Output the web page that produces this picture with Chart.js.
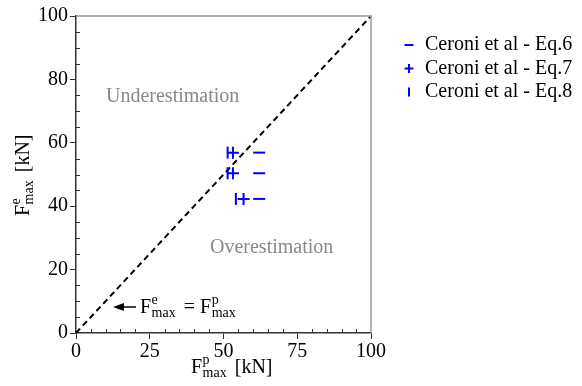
<!DOCTYPE html>
<html>
<head>
<meta charset="utf-8">
<script src="https://cdn.jsdelivr.net/npm/chart.js@4.4.1/dist/chart.umd.min.js"></script>
<style>
  html, body { margin: 0; padding: 0; background: #fff; }
  #wrap { width: 582px; height: 386px; }
</style>
</head>
<body>
<div id="wrap"><canvas id="forceChart" width="582" height="386"></canvas></div>
<script>
// measured vs predicted peak force, kN
const xEq6 = [62.1, 62.1, 62.1];
const yEq6 = [56.9, 50.4, 42.3];
const xEq7 = [53.2, 53.2, 56.8];
const yEq7 = [56.9, 50.4, 42.3];
const xEq8 = [51.4, 51.4, 54.2];
const yEq8 = [56.9, 50.4, 42.3];
const seriesLabels = ['Ceroni et al - Eq.6', 'Ceroni et al - Eq.7', 'Ceroni et al - Eq.8'];
const xTicks = [0, 25, 50, 75, 100];
const yTicks = [0, 20, 40, 60, 80, 100];

const serif = 'Liberation Serif';
const blue = '#0000ff';
Chart.defaults.font.family = serif;

function pts(xs, ys) {
    return xs.map((x, i) => ({ x: x, y: ys[i] }));
}

function font(size) {
    return size + 'px "' + serif + '", serif';
}

// F with a superscript and "max" subscript, then an optional tail
function drawF(ctx, x, y, sup, tail) {
    ctx.font = font(20);
    ctx.fillText('F', x, y);
    let cx = x + ctx.measureText('F').width + 0.5;
    ctx.font = font(14);
    ctx.fillText(sup, cx, y - 9);
    ctx.fillText('max', cx, y + 4);
    cx += Math.max(ctx.measureText(sup).width, ctx.measureText('max').width) + 3;
    if (tail) {
        ctx.font = font(20);
        ctx.fillText(tail, cx, y);
        cx += ctx.measureText(tail).width;
    }
    return cx;
}

const extras = {
    id: 'extras',
    afterDraw(chart) {
        const ctx = chart.ctx;
        const area = chart.chartArea;
        const xs = chart.scales.x, ys = chart.scales.y;
        ctx.save();

        // top and right frame
        ctx.strokeStyle = '#999';
        ctx.lineWidth = 1.5;
        ctx.beginPath();
        ctx.moveTo(area.left, area.top);
        ctx.lineTo(area.right, area.top);
        ctx.lineTo(area.right, area.bottom);
        ctx.stroke();

        // minor ticks every 5 kN, pointing inward
        ctx.strokeStyle = '#333';
        ctx.lineWidth = 1;
        ctx.beginPath();
        for (let v = 5; v < 100; v += 5) {
            if (!xTicks.includes(v)) {
                const px = Math.round(xs.getPixelForValue(v)) + 0.5;
                ctx.moveTo(px, area.bottom);
                ctx.lineTo(px, area.bottom - 4);
            }
            if (!yTicks.includes(v)) {
                const py = Math.round(ys.getPixelForValue(v)) + 0.5;
                ctx.moveTo(area.left, py);
                ctx.lineTo(area.left + 4, py);
            }
        }
        ctx.stroke();

        // region notes
        ctx.fillStyle = '#888';
        ctx.font = font(20);
        ctx.textBaseline = 'alphabetic';
        ctx.fillText('Underestimation', 106, 102);
        ctx.fillText('Overestimation', 210, 253);

        // equality line note with arrow
        ctx.fillStyle = '#000';
        ctx.strokeStyle = '#000';
        ctx.lineWidth = 1.5;
        ctx.beginPath();
        ctx.moveTo(136, 307);
        ctx.lineTo(122, 307);
        ctx.stroke();
        ctx.beginPath();
        ctx.moveTo(113, 307);
        ctx.lineTo(124, 303);
        ctx.lineTo(124, 311);
        ctx.closePath();
        ctx.fill();
        let ex = drawF(ctx, 140, 313, 'e', ' = ');
        drawF(ctx, ex, 313, 'p', '');

        // axis titles
        drawF(ctx, 191, 373, 'p', ' [kN]');
        ctx.save();
        ctx.translate(29, 216);
        ctx.rotate(-Math.PI / 2);
        drawF(ctx, 0, 0, 'e', ' [kN]');
        ctx.restore();

        // legend
        const sets = chart.data.datasets.filter(d => d.label);
        sets.forEach((d, i) => {
            const ly = 45 + i * 23.5;
            ctx.strokeStyle = d.borderColor;
            ctx.fillStyle = d.borderColor;
            ctx.lineWidth = 2;
            Chart.helpers.drawPoint(ctx, {
                pointStyle: d.pointStyle,
                rotation: d.rotation || 0,
                radius: 4.5,
                borderWidth: 2
            }, 409, ly);
            ctx.fillStyle = '#000';
            ctx.font = font(20);
            ctx.textBaseline = 'middle';
            ctx.fillText(d.label, 425, ly);
        });
        ctx.restore();
    }
};

const marker = {
    type: 'scatter',
    borderColor: blue,
    backgroundColor: blue,
    pointRadius: 6,
    pointBorderWidth: 2
};

const tickFont = { family: serif, size: 20 };

new Chart(document.getElementById('forceChart'), {
    type: 'scatter',
    data: {
        datasets: [
            { ...marker, label: seriesLabels[0], data: pts(xEq6, yEq6), pointStyle: 'line' },
            { ...marker, label: seriesLabels[1], data: pts(xEq7, yEq7), pointStyle: 'cross' },
            { ...marker, label: seriesLabels[2], data: pts(xEq8, yEq8), pointStyle: 'line', rotation: 90, pointRotation: 90 },
            {
                type: 'line',
                data: [{ x: 0, y: 0 }, { x: 100, y: 100 }],
                borderColor: '#000',
                borderWidth: 2,
                borderDash: [6, 4],
                pointRadius: 0,
                fill: false
            }
        ]
    },
    options: {
        responsive: false,
        animation: false,
        layout: { padding: { top: 16, right: 211, bottom: 0, left: 0 } },
        plugins: { legend: { display: false }, tooltip: { enabled: false } },
        scales: {
            x: {
                type: 'linear',
                min: 0, max: 100,
                afterBuildTicks: s => { s.ticks = xTicks.map(v => ({ value: v })); },
                afterFit: s => { s.height = 53; },
                grid: { drawOnChartArea: false, tickLength: 6, color: '#333', tickWidth: 1 },
                border: { display: true, color: '#333', width: 1.5 },
                ticks: { color: '#000', font: tickFont, padding: 1, maxRotation: 0 }
            },
            y: {
                type: 'linear',
                min: 0, max: 100,
                afterBuildTicks: s => { s.ticks = yTicks.map(v => ({ value: v })); },
                afterFit: s => { s.width = 76; },
                grid: { drawOnChartArea: false, tickLength: 6, color: '#333', tickWidth: 1 },
                border: { display: true, color: '#333', width: 1.5 },
                ticks: { color: '#000', font: tickFont, padding: 2 }
            }
        }
    },
    plugins: [extras]
});
</script>
</body>
</html>
